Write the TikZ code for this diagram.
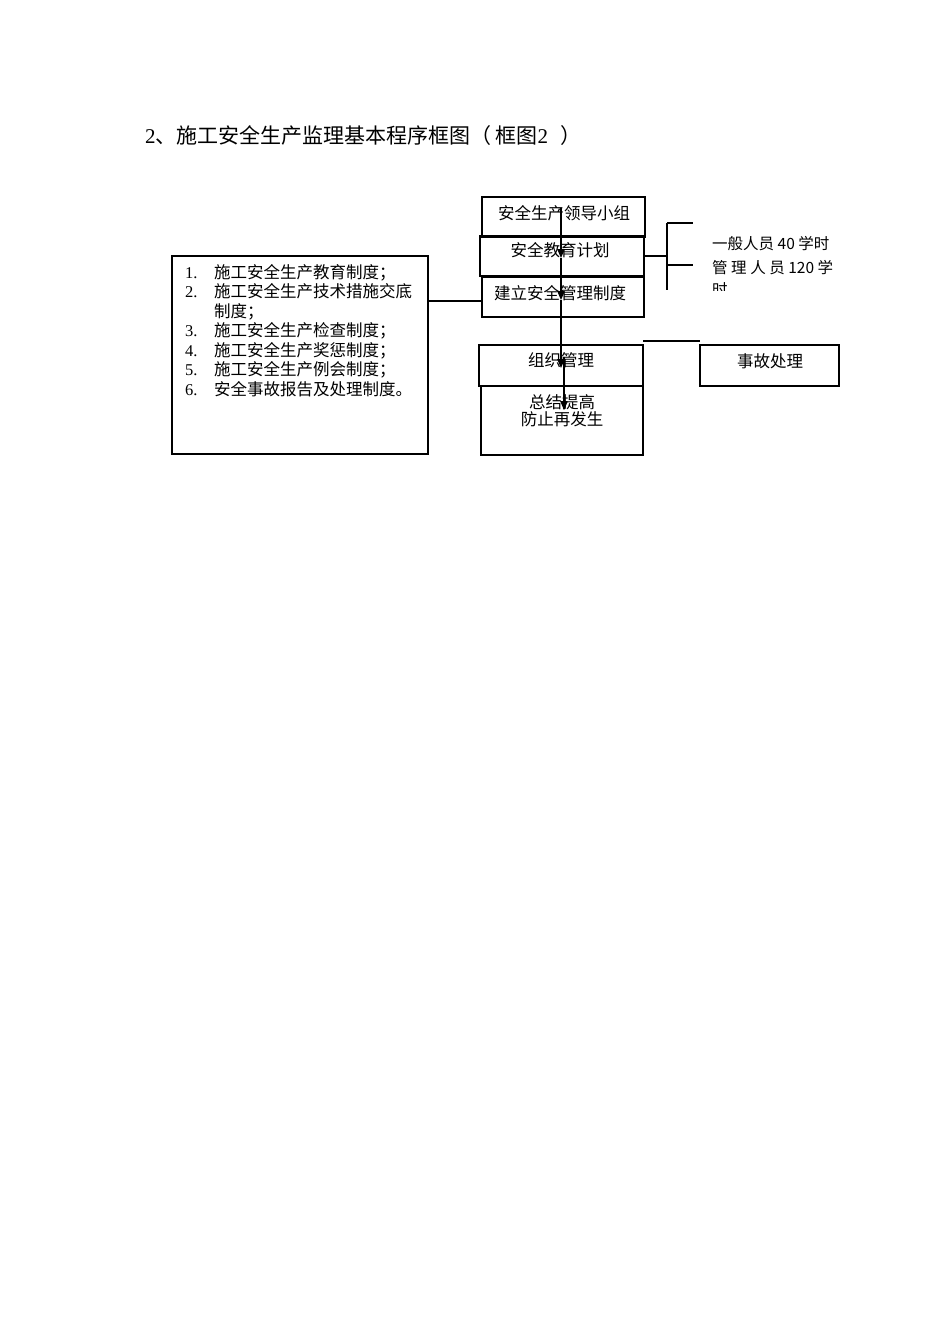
\documentclass[tikz,border=0pt]{standalone}
\usepackage{fontspec}
\setmainfont{Noto Sans CJK SC}
\newfontfamily\latinserif{Liberation Serif}
\usetikzlibrary{arrows.meta,calc}
\begin{document}
\begin{tikzpicture}[x=1pt,y=-1pt,
  box/.style={draw, line width=1.2pt, inner sep=0pt, outer sep=0pt, anchor=north west},
  conn/.style={line width=1.2pt},
  arr/.style={line width=1.2pt, -{Triangle[width=7.5pt,length=9pt]}},
  txt/.style={inner sep=0pt, anchor=base, font=\fontsize{16.5}{18.4}\selectfont},
  small/.style={inner sep=0pt, anchor=base west, font=\fontsize{15.5}{24}\selectfont}]
\useasboundingbox[fill=white] (0,0) rectangle (950,1344);

% title
\node[inner sep=0pt, anchor=base west, font=\fontsize{21}{21}\selectfont] (title) at (145,143)
  {{\latinserif 2}、施工安全生产监理基本程序框图（\hspace{4pt}框图{\latinserif 2}\hspace{12pt}）};

% boxes
\node[box, minimum width=163pt, minimum height=40pt] (b1) at (482,197) {};
\node[box, minimum width=164pt, minimum height=40pt] (b2) at (480,236) {};
\node[box, minimum width=162pt, minimum height=40pt] (b3) at (482,277) {};
\node[box, minimum width=164pt, minimum height=41pt] (b4) at (479,345) {};
\node[box, minimum width=162pt, minimum height=69pt] (b5) at (481,386) {};
\node[box, minimum width=139pt, minimum height=41pt] (b6) at (700,345) {};
\node[box, minimum width=256pt, minimum height=198pt] (L) at (172,256) {};

% box texts
\node[txt] (b1t) at (564,219) {安全生产领导小组};
\node[txt] (b2t) at (560,256) {安全教育计划};
\node[txt] (b3t) at (560,299) {建立安全管理制度};
\node[txt] (b4t) at (561,366) {组织管理};
\node[txt] (b5ta) at (562,408) {总结提高};
\node[txt] (b5tb) at (562,425) {防止再发生};
\node[txt] (b6t) at (770,367) {事故处理};

% list in left box
\node[txt, anchor=base west] (list) at (185,278) {%
\begin{tabular}[t]{@{}p{29pt}@{}l@{}}
{\latinserif 1.} & 施工安全生产教育制度；\\
{\latinserif 2.} & 施工安全生产技术措施交底\\
 & 制度；\\
{\latinserif 3.} & 施工安全生产检查制度；\\
{\latinserif 4.} & 施工安全生产奖惩制度；\\
{\latinserif 5.} & 施工安全生产例会制度；\\
{\latinserif 6.} & 安全事故报告及处理制度。
\end{tabular}};

% right texts
\node[small] (r1) at (712,249.5) {一般人员 40 学时};
\node[small] (r2) at (712,273.5) {\makebox[121pt][s]{管 理 人 员 120 学}};
\begin{scope}
  \clip (700,280) rectangle (850,290);
  \node[small] (r3) at (712,295.5) {时};
\end{scope}

% main vertical arrows
\coordinate (a0) at (561,208);
\coordinate (a1) at (561,258);
\coordinate (a2) at (561,300);
\coordinate (a3) at (561,368);
\coordinate (c0) at (564,357);
\coordinate (c1) at (564,410);
\draw[arr] (a0) -- (a1);
\draw[arr] (a1) -- (a2);
\draw[arr] (a2) -- (a3);
\draw[arr] (c0) -- (c1);

% left box to b3
\draw[conn] (L.east |- 0,301) -- (b3.west |- 0,301);

% bracket
\coordinate (k0) at (667,256);
\coordinate (k1) at (667,223);
\coordinate (k2) at (667,290);
\coordinate (k3) at (693,223);
\coordinate (k4) at (667,265);
\coordinate (k5) at (693,265);
\draw[conn] (b2.east |- k0) -- (k0);
\draw[conn] (k1) -- (k2);
\draw[conn] (k1) -- (k3);
\draw[conn] (k4) -- (k5);

% line over b4 / b6
\draw[conn] (b4.north east |- 0,341) -- (b6.north west |- 0,341);
\end{tikzpicture}
\end{document}
